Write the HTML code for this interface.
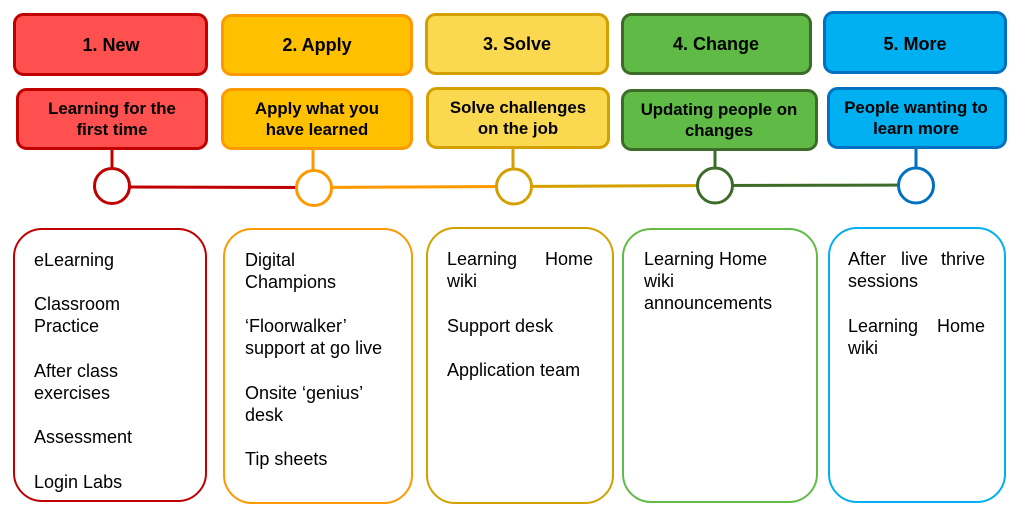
<!DOCTYPE html>
<html><head><meta charset="utf-8"><style>
html,body{margin:0;padding:0;background:#fff;}
svg{display:block;}
text{font-family:"Liberation Sans",Arial,sans-serif;fill:#000;}
.h{font-size:18px;font-weight:bold;text-anchor:middle;}
.s{font-size:16.8px;font-weight:bold;text-anchor:middle;}
.b{font-size:18px;}
</style></head><body>
<svg width="1025" height="518" viewBox="0 0 1025 518" xmlns="http://www.w3.org/2000/svg">
<!-- header boxes -->
<rect x="14.5" y="14.5" width="192" height="60" rx="9" fill="#FF5050" stroke="#C00000" stroke-width="3"/>
<rect x="222.5" y="15.5" width="189" height="59" rx="9" fill="#FFC000" stroke="#FF9900" stroke-width="3"/>
<rect x="426.5" y="14.5" width="181" height="59" rx="9" fill="#FAD84F" stroke="#D4A000" stroke-width="3"/>
<rect x="622.5" y="14.5" width="188" height="59" rx="9" fill="#5FBB46" stroke="#3D6B29" stroke-width="3"/>
<rect x="824.5" y="12.5" width="181" height="60" rx="9" fill="#00B0F0" stroke="#0070C0" stroke-width="3"/>
<text class="h" x="111" y="51">1. New</text>
<text class="h" x="317" y="51">2. Apply</text>
<text class="h" x="517" y="50">3. Solve</text>
<text class="h" x="716" y="50">4. Change</text>
<text class="h" x="915" y="50">5. More</text>
<!-- sub boxes -->
<rect x="17.5" y="89.5" width="189" height="59" rx="9" fill="#FF5050" stroke="#C00000" stroke-width="3"/>
<rect x="222.5" y="89.5" width="189" height="59" rx="9" fill="#FFC000" stroke="#FF9900" stroke-width="3"/>
<rect x="427.5" y="88.5" width="181" height="59" rx="9" fill="#FAD84F" stroke="#D4A000" stroke-width="3"/>
<rect x="622.5" y="90.5" width="194" height="59" rx="9" fill="#5FBB46" stroke="#3D6B29" stroke-width="3"/>
<rect x="828.5" y="88.5" width="177" height="59" rx="9" fill="#00B0F0" stroke="#0070C0" stroke-width="3"/>
<text class="s" x="112" y="114">Learning for the</text>
<text class="s" x="112" y="135">first time</text>
<text class="s" x="317" y="114">Apply what you</text>
<text class="s" x="317" y="135">have learned</text>
<text class="s" x="518" y="113">Solve challenges</text>
<text class="s" x="518" y="134">on the job</text>
<text class="s" x="719" y="115">Updating people on</text>
<text class="s" x="719" y="136">changes</text>
<text class="s" x="916" y="113">People wanting to</text>
<text class="s" x="916" y="134">learn more</text>
<!-- connecting lines -->
<line x1="112" y1="187" x2="314" y2="187.5" stroke="#C00000" stroke-width="3"/>
<line x1="314" y1="187.5" x2="514" y2="186.5" stroke="#FF9900" stroke-width="3"/>
<line x1="514" y1="186.5" x2="715" y2="185.5" stroke="#D4A000" stroke-width="3"/>
<line x1="715" y1="185.5" x2="916" y2="185" stroke="#3D6B29" stroke-width="3"/>
<!-- stems -->
<line x1="112" y1="150" x2="112" y2="168" stroke="#C00000" stroke-width="3"/>
<line x1="313" y1="150" x2="313" y2="170" stroke="#FF9900" stroke-width="3"/>
<line x1="513" y1="149" x2="513" y2="169" stroke="#D4A000" stroke-width="3"/>
<line x1="715" y1="151" x2="715" y2="168" stroke="#3D6B29" stroke-width="3"/>
<line x1="916" y1="149" x2="916" y2="168" stroke="#0070C0" stroke-width="3"/>
<!-- circles -->
<circle cx="112" cy="186" r="17.5" fill="#fff" stroke="#C00000" stroke-width="3"/>
<circle cx="314" cy="188" r="17.5" fill="#fff" stroke="#FF9900" stroke-width="3"/>
<circle cx="514" cy="186.5" r="17.5" fill="#fff" stroke="#D4A000" stroke-width="3"/>
<circle cx="715" cy="185.5" r="17.5" fill="#fff" stroke="#3D6B29" stroke-width="3"/>
<circle cx="916" cy="185.5" r="17.5" fill="#fff" stroke="#0070C0" stroke-width="3"/>
<!-- bottom boxes -->
<rect x="14" y="229" width="192" height="272" rx="28" fill="#fff" stroke="#C00000" stroke-width="2"/>
<rect x="224" y="229" width="188" height="274" rx="28" fill="#fff" stroke="#FF9900" stroke-width="2"/>
<rect x="427" y="228" width="186" height="275" rx="28" fill="#fff" stroke="#D4A000" stroke-width="2"/>
<rect x="623" y="229" width="194" height="273" rx="28" fill="#fff" stroke="#62BB46" stroke-width="2"/>
<rect x="829" y="228" width="176" height="274" rx="28" fill="#fff" stroke="#00B0F0" stroke-width="2"/>
<!-- box 1 text -->
<text class="b" x="34" y="266">eLearning</text>
<text class="b" x="34" y="310">Classroom</text>
<text class="b" x="34" y="332">Practice</text>
<text class="b" x="34" y="377">After class</text>
<text class="b" x="34" y="399">exercises</text>
<text class="b" x="34" y="443">Assessment</text>
<text class="b" x="34" y="488">Login Labs</text>
<!-- box 2 text -->
<text class="b" x="245" y="266">Digital</text>
<text class="b" x="245" y="288">Champions</text>
<text class="b" x="245" y="332">‘Floorwalker’</text>
<text class="b" x="245" y="354">support at go live</text>
<text class="b" x="245" y="399">Onsite ‘genius’</text>
<text class="b" x="245" y="421">desk</text>
<text class="b" x="245" y="465">Tip sheets</text>
<!-- box 3 text -->
<text class="b" x="447" y="265">Learning</text>
<text class="b" x="593" y="265" text-anchor="end">Home</text>
<text class="b" x="447" y="287">wiki</text>
<text class="b" x="447" y="332">Support desk</text>
<text class="b" x="447" y="376">Application team</text>
<!-- box 4 text -->
<text class="b" x="644" y="265">Learning Home</text>
<text class="b" x="644" y="287">wiki</text>
<text class="b" x="644" y="309">announcements</text>
<!-- box 5 text -->
<text class="b" x="848" y="265">After</text>
<text class="b" x="901" y="265">live</text>
<text class="b" x="985" y="265" text-anchor="end">thrive</text>
<text class="b" x="848" y="287">sessions</text>
<text class="b" x="848" y="332">Learning</text>
<text class="b" x="985" y="332" text-anchor="end">Home</text>
<text class="b" x="848" y="354">wiki</text>
</svg>
</body></html>
